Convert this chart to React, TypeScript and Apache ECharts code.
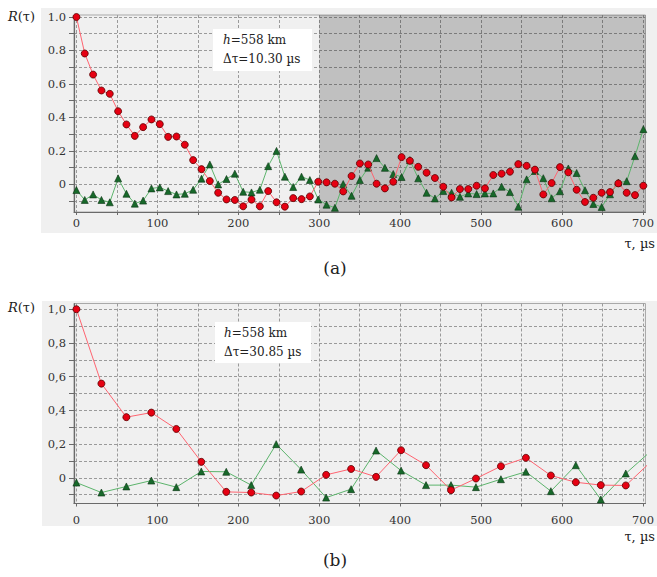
import React, { useEffect, useRef } from "react";
import * as echarts from "echarts";

// Panel (a): lag step 10.30 µs
const tauA = [
  0, 10.3, 20.6, 30.9, 41.2, 51.5, 61.8, 72.1, 82.4, 92.7, 103, 113.3, 123.6, 133.9, 144.2,
  154.5, 164.8, 175.1, 185.4, 195.7, 206, 216.3, 226.6, 236.9, 247.2, 257.5, 267.8, 278.1,
  288.4, 298.7, 309, 319.3, 329.6, 339.9, 350.2, 360.5, 370.8, 381.1, 391.4, 401.7, 412,
  422.3, 432.6, 442.9, 453.2, 463.5, 473.8, 484.1, 494.4, 504.7, 515, 525.3, 535.6, 545.9,
  556.2, 566.5, 576.8, 587.1, 597.4, 607.7, 618, 628.3, 638.6, 648.9, 659.2, 669.5, 679.8,
  690.1, 700.4,
];
const redA = [
  1.0, 0.782, 0.656, 0.561, 0.541, 0.437, 0.358, 0.29, 0.342, 0.388, 0.36, 0.284, 0.286,
  0.237, 0.145, 0.091, 0.02, -0.05, -0.09, -0.093, -0.131, -0.091, -0.131, -0.04, -0.107,
  -0.133, -0.082, -0.088, -0.072, 0.016, 0.012, 0.004, -0.042, 0.05, 0.125, 0.119, 0.004,
  -0.024, 0.016, 0.163, 0.141, 0.105, 0.07, 0.038, -0.014, -0.078, -0.028, -0.028, -0.008,
  -0.024, 0.056, 0.064, 0.076, 0.121, 0.111, 0.088, -0.06, 0.008, 0.103, 0.072, -0.032,
  -0.105, -0.08, -0.05, -0.046, 0.006, -0.05, -0.064, -0.008,
];
const greenA = [
  -0.034, -0.093, -0.06, -0.093, -0.107, 0.036, -0.056, -0.115, -0.097, -0.024, -0.018,
  -0.04, -0.06, -0.056, -0.032, 0.034, 0.119, 0.0, 0.032, 0.064, -0.044, -0.048, -0.032,
  0.109, 0.2, 0.046, -0.016, 0.046, 0.026, -0.09, -0.121, -0.14, 0.002, -0.068, 0.026, 0.1,
  0.157, 0.099, 0.062, 0.044, 0.145, 0.036, -0.05, -0.084, -0.04, -0.05, -0.074, -0.054,
  -0.058, -0.054, -0.054, -0.014, -0.046, -0.133, 0.03, 0.08, 0.037, -0.083, -0.041, 0.095,
  0.068, -0.035, -0.117, -0.135, -0.059, 0.01, 0.019, 0.169, 0.33,
];

// Panel (b): lag step 30.85 µs
const tauB = [
  0, 30.85, 61.7, 92.55, 123.4, 154.25, 185.1, 215.95, 246.8, 277.65, 308.5, 339.35, 370.2,
  401.05, 431.9, 462.75, 493.6, 524.45, 555.3, 586.15, 617, 647.85, 678.7, 709.55,
];
const redB = [
  1.0, 0.559, 0.36, 0.387, 0.29, 0.095, -0.083, -0.087, -0.105, -0.081, 0.018, 0.053, 0.006,
  0.164, 0.075, -0.073, -0.004, 0.069, 0.119, 0.014, -0.026, -0.043, -0.045, 0.095,
];
const greenB = [
  -0.028, -0.087, -0.051, -0.016, -0.055, 0.038, 0.036, -0.043, 0.2, 0.049, -0.117, -0.067,
  0.162, 0.043, -0.043, -0.043, -0.055, -0.008, 0.036, -0.079, 0.075, -0.128, 0.026, 0.158,
];

const xTicks = [0, 50, 100, 150, 200, 250, 300, 350, 400, 450, 500, 550, 600, 650, 700];
const xLabels = [0, 100, 200, 300, 400, 500, 600, 700];
const yTicks = [-0.1, 0, 0.1, 0.2, 0.3, 0.4, 0.5, 0.6, 0.7, 0.8, 0.9, 1.0];
const yLabels = [0, 0.2, 0.4, 0.6, 0.8, 1.0];

const SERIF = "DejaVu Serif";

export default function App() {
  const ref = useRef<HTMLDivElement>(null);
  useEffect(() => {
    if (!ref.current) return;
    const chart = echarts.init(ref.current, undefined, { renderer: "svg" });
    const pairs = (xs: number[], ys: number[]) => xs.map((x, i) => [x, ys[i]]);

    const makeX = (gridIndex: number, margin: number) => ({
      type: "value",
      gridIndex,
      min: -3,
      max: 703,
      axisLine: { show: true, onZero: false, lineStyle: { color: "#6a6a6a", width: 1.2 } },
      axisTick: { show: true, length: 3, customValues: xTicks, lineStyle: { color: "#6a6a6a" } },
      axisLabel: { customValues: xLabels, margin, color: "#333", fontFamily: SERIF, fontSize: 11.5 },
      splitLine: { show: true, lineStyle: { color: "#9a9a9a", type: [3, 2], width: 1 } },
    });
    const makeY = (gridIndex: number, min: number, max: number, comma: boolean) => ({
      type: "value",
      gridIndex,
      min,
      max,
      axisLine: { show: true, onZero: false, lineStyle: { color: "#6a6a6a", width: 1.2 } },
      axisTick: { show: true, length: 5, customValues: yTicks, lineStyle: { color: "#6a6a6a" } },
      axisLabel: {
        customValues: yLabels,
        margin: 8,
        color: "#333",
        fontFamily: SERIF,
        fontSize: 11.5,
        formatter: (v: number) => {
          if (Math.abs(v) < 1e-9) return "0";
          const s = v.toFixed(1);
          return comma ? s.replace(".", ",") : s;
        },
      },
      splitLine: { show: true, lineStyle: { color: "#9a9a9a", type: [3, 2], width: 1 } },
    });

    const red = (xi: number, data: number[][], z: number) => ({
      type: "line", xAxisIndex: xi, yAxisIndex: xi, data, z,
      symbol: "circle", symbolSize: 7, showAllSymbol: true, clip: true,
      lineStyle: { color: "#ff6470", width: 1 },
      itemStyle: { color: "#e60012", borderColor: "#5a0000", borderWidth: 0.8 },
    });
    const green = (xi: number, data: number[][], z: number, extra: any = {}) => ({
      type: "line", xAxisIndex: xi, yAxisIndex: xi, data, z,
      symbol: "triangle", symbolSize: 7, showAllSymbol: true, clip: true,
      lineStyle: { color: "#5cb46c", width: 1 },
      itemStyle: { color: "#17692a", borderColor: "#0a3312", borderWidth: 0.6 },
      ...extra,
    });

    const txt = (text: string, x: number, y: number, size: number, align = "left") => ({
      type: "text",
      z: 100,
      style: {
        text, x, y, fontFamily: SERIF, fontSize: size, fill: "#222", align, verticalAlign: "middle",
        rich: { i: { fontStyle: "italic", fontFamily: SERIF, fontSize: size, fill: "#222" } },
      },
    });

    chart.setOption({
      animation: false,
      backgroundColor: "#ffffff",
      grid: [
        { left: 74, width: 580, top: 15, height: 197, show: true, backgroundColor: "#f0f0f0", borderColor: "#a8a8a8", borderWidth: 1 },
        { left: 74, width: 580, top: 303.5, height: 200, show: true, backgroundColor: "#f0f0f0", borderColor: "#a8a8a8", borderWidth: 1 },
      ],
      xAxis: [makeX(0, 5), makeX(1, 10)],
      yAxis: [makeY(0, -0.165, 1.012, false), makeY(1, -0.152, 1.034, true)],
      series: [
        green(0, pairs(tauA, greenA), 2, {
          markArea: { silent: true, itemStyle: { color: "rgba(0,0,0,0.2)" }, data: [[{ xAxis: 300 }, { xAxis: 703 }]] },
        }),
        red(0, pairs(tauA, redA), 3),
        green(1, pairs(tauB, greenB), 2),
        red(1, pairs(tauB, redB), 3),
      ],
      graphic: [
        { type: "rect", z: -10, shape: { x: 41, y: 8, width: 616, height: 225 }, style: { fill: "#f0f0f0" } },
        { type: "rect", z: -10, shape: { x: 42, y: 301, width: 615, height: 225 }, style: { fill: "#f0f0f0" } },
        { type: "rect", z: 90, shape: { x: 213, y: 29, width: 99, height: 42 }, style: { fill: "#ffffff" } },
        { type: "rect", z: 90, shape: { x: 215, y: 322, width: 96, height: 41 }, style: { fill: "#ffffff" } },
        txt("{i|h}=558 km", 223, 40, 12),
        txt("Δτ=10.30 µs", 223, 59, 12),
        txt("{i|h}=558 km", 224, 333, 12),
        txt("Δτ=30.85 µs", 224, 352, 12),
        txt("{i|R}(τ)", 8, 16.5, 13),
        txt("{i|R}(τ)", 8, 307, 13),
        txt("τ, µs", 655, 243, 13, "right"),
        txt("τ, µs", 655, 536, 13, "right"),
        txt("(a)", 335, 268, 17, "center"),
        txt("(b)", 335, 560, 17, "center"),
      ],
    });
    return () => chart.dispose();
  }, []);
  return <div ref={ref} style={{ position: "absolute", left: 0, top: 0, width: 657, height: 577 }} />;
}
